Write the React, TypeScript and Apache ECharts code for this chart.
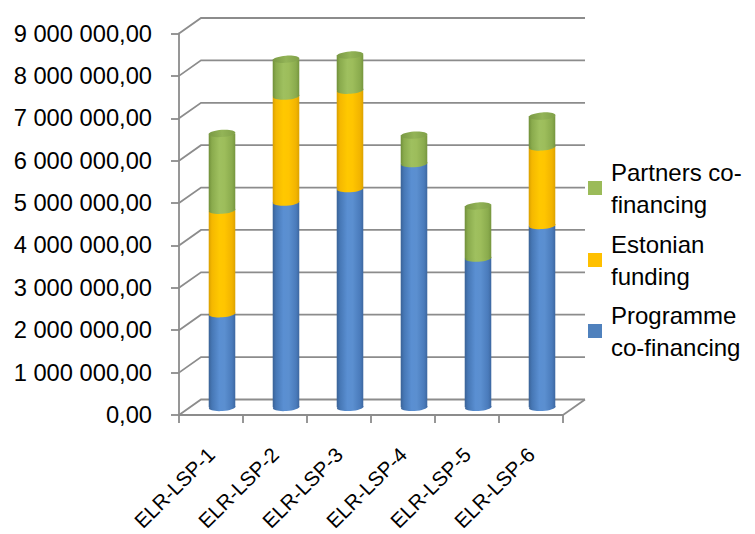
import React, { useEffect, useRef } from "react";
import * as echarts from "echarts";

const categories = ["ELR-LSP-1", "ELR-LSP-2", "ELR-LSP-3", "ELR-LSP-4", "ELR-LSP-5", "ELR-LSP-6"];
const programme = [2210000, 4840000, 5160000, 5750000, 3520000, 4290000];
const estonian = [2440000, 2500000, 2320000, 0, 0, 1850000];
const partners = [1810000, 870000, 830000, 670000, 1230000, 730000];
const yTicks = [0, 1000000, 2000000, 3000000, 4000000, 5000000, 6000000, 7000000, 8000000, 9000000];
const seriesNames = ["Programme co-financing", "Estonian funding", "Partners co-financing"];
const legendLabels: Record<string, string> = {
  "Programme co-financing": "Programme\nco-financing",
  "Estonian funding": "Estonian\nfunding",
  "Partners co-financing": "Partners co-\nfinancing",
};

const FONT = "'Liberation Sans', Arial, sans-serif";
const BACK_DX = 22;
const BACK_DY = -15.5;
const GRID_COLOR = "#8c8c8c";

const palettes = [
  {
    base: "#4F81BD",
    body: ["#3a6296", "#4677b5", "#5a8fd2", "#5b8fd0", "#4a7bbb", "#3d67a0"],
    cap: ["#4a78b2", "#6496d4", "#4e7fbe"],
  },
  {
    base: "#FFC000",
    body: ["#d99f00", "#f5b800", "#ffc800", "#ffc500", "#f2b400", "#dca200"],
    cap: ["#e6ae00", "#ffcc20", "#ebb200"],
  },
  {
    base: "#9BBB59",
    body: ["#708f3a", "#8aab4d", "#9fc05f", "#9dbd5b", "#8aab4d", "#76953e"],
    cap: ["#7a9944", "#93b457", "#80a048"],
  },
];

function grad(colors: string[]) {
  const n = colors.length;
  const offs = n === 6 ? [0, 0.12, 0.4, 0.6, 0.88, 1] : [0, 0.5, 1];
  return {
    type: "linear",
    x: 0,
    y: 0,
    x2: 1,
    y2: 0,
    colorStops: colors.map((c, i) => ({ offset: offs[i], color: c })),
  };
}

function fmt(v: number) {
  const [i, d] = v.toFixed(2).split(".");
  return i.replace(/\B(?=(\d{3})+(?!\d))/g, " ") + "," + d;
}

function buildStackData() {
  const layers = [programme, estonian, partners];
  const out: number[][][] = [[], [], []];
  categories.forEach((_, i) => {
    let acc = 0;
    let topLayer = -1;
    layers.forEach((arr, s) => {
      if (arr[i] > 0) topLayer = s;
    });
    layers.forEach((arr, s) => {
      out[s].push([i, acc, acc + arr[i], s === topLayer ? 1 : 0]);
      acc += arr[i];
    });
  });
  return out;
}

function barRenderer(pi: number) {
  const pal = palettes[pi];
  return (params: any, api: any) => {
    const idx = api.value(0);
    const base = api.value(1);
    const top = api.value(2);
    const isTop = api.value(3);
    if (!(top > base)) return null;
    const pb = api.coord([idx, base]);
    const pt = api.coord([idx, top]);
    const band = api.size([1, 0])[0];
    const w = band * 0.415;
    const cx = pb[0] + BACK_DX / 2;
    const yb = pb[1] + BACK_DY / 2;
    const yt = pt[1] + BACK_DY / 2;
    const ry = 3.6;
    const tilt = 0.07;
    const fill = grad(pal.body);
    const children: any[] = [
      {
        type: "ellipse",
        shape: { cx, cy: yb, rx: w / 2, ry },
        rotation: tilt,
        originX: cx,
        originY: yb,
        style: { fill },
      },
      {
        type: "rect",
        shape: { x: cx - w / 2, y: yt, width: w, height: yb - yt },
        style: { fill },
      },
    ];
    if (isTop) {
      children.push({
        type: "ellipse",
        shape: { cx, cy: yt, rx: w / 2, ry },
        rotation: tilt,
        originX: cx,
        originY: yt,
        style: { fill: grad(pal.cap) },
      });
    }
    return { type: "group", children };
  };
}

function frameRenderer(params: any, api: any) {
  const v = api.value(1);
  const p = api.coord([0, v]);
  const cs = params.coordSys;
  const x0 = cs.x;
  const x1 = cs.x + cs.width;
  const y = p[1];
  const style = { stroke: GRID_COLOR, lineWidth: 1.8, fill: "none" };
  const children: any[] = [
    {
      type: "polyline",
      shape: {
        points: [
          [x0, y],
          [x0 + BACK_DX, y + BACK_DY],
          [x1 + BACK_DX, y + BACK_DY],
        ],
      },
      style,
    },
  ];
  if (v === 0) {
    children.push({
      type: "line",
      shape: { x1: x1, y1: y, x2: x1 + BACK_DX, y2: y + BACK_DY },
      style,
    });
  }
  return { type: "group", children };
}

export default function App() {
  const ref = useRef<HTMLDivElement>(null);
  useEffect(() => {
    if (!ref.current) return;
    const chart = echarts.init(ref.current, undefined, { renderer: "svg" });
    const stacks = buildStackData();
    const legendTops = [283, 212, 140];
    const option: any = {
      animation: false,
      backgroundColor: "#ffffff",
      textStyle: { fontFamily: FONT },
      grid: {
        left: 179,
        right: 192,
        top: 33.5,
        bottom: 119,
        containLabel: false,
        outerBoundsMode: "none",
      },
      xAxis: {
        type: "category",
        data: categories,
        boundaryGap: true,
        axisLine: { show: true, lineStyle: { color: GRID_COLOR, width: 1.8 } },
        axisTick: { show: true, length: 8, alignWithLabel: false, lineStyle: { color: GRID_COLOR, width: 1.8 } },
        axisLabel: {
          interval: 0,
          rotate: 45,
          margin: 36,
          fontSize: 20.5,
          fontFamily: FONT,
          color: "#000",
        },
        splitLine: { show: false },
      },
      yAxis: {
        type: "value",
        min: 0,
        max: 9000000,
        interval: 1000000,
        axisLine: { show: true, lineStyle: { color: GRID_COLOR, width: 1.8 } },
        axisTick: { show: true, length: 8, lineStyle: { color: GRID_COLOR, width: 1.8 } },
        axisLabel: {
          margin: 27,
          fontSize: 23.7,
          fontFamily: FONT,
          color: "#000",
          formatter: (v: number) => fmt(v),
        },
        splitLine: { show: false },
      },
      legend: seriesNames.map((name, i) => ({
        data: [name],
        orient: "vertical",
        left: 588,
        top: legendTops[i],
        padding: 0,
        icon: "rect",
        itemWidth: 14,
        itemHeight: 14,
        selectedMode: false,
        formatter: (n: string) => legendLabels[n] || n,
        textStyle: {
          fontSize: 24,
          fontFamily: FONT,
          color: "#000",
          lineHeight: 32,
          padding: [32, 0, 0, 4],
        },
      })),
      series: [
        {
          type: "custom",
          name: "frame",
          silent: true,
          clip: false,
          z: 1,
          renderItem: frameRenderer,
          encode: { x: 0, y: 1 },
          data: yTicks.map((v) => [0, v]),
        },
        ...seriesNames.map((name, i) => ({
          type: "custom",
          name,
          clip: false,
          z: 3,
          itemStyle: { color: palettes[i].base },
          renderItem: barRenderer(i),
          encode: { x: 0, y: 2 },
          data: stacks[i],
        })),
      ],
    };
    chart.setOption(option);
    return () => chart.dispose();
  }, []);
  return (
    <div
      ref={ref}
      style={{ position: "fixed", left: 0, top: 0, width: 755, height: 534, background: "#fff" }}
    />
  );
}
